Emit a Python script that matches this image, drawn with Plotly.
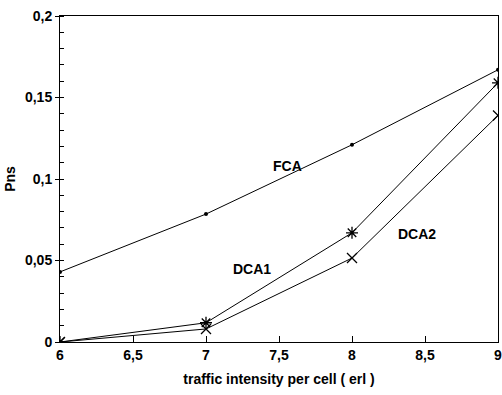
import plotly.graph_objects as go

x_vals = [6, 7, 8, 9]
fca = [0.043, 0.0785, 0.121, 0.167]
dca1 = [0.0, 0.0118, 0.067, 0.159]
dca2 = [0.0, 0.008, 0.0515, 0.139]

x_ticks = [6, 6.5, 7, 7.5, 8, 8.5, 9]
x_tick_labels = ["6", "6,5", "7", "7,5", "8", "8,5", "9"]
y_ticks = [0, 0.05, 0.1, 0.15, 0.2]
y_tick_labels = ["0", "0,05", "0,1", "0,15", "0,2"]

labels = ["FCA", "DCA1", "DCA2"]
label_x = [7.555, 7.315, 8.445]
label_y = [0.108, 0.0448, 0.066]

fnt = dict(family="Liberation Sans, Arial, sans-serif", size=14, color="black")

fig = go.Figure()
fig.add_trace(go.Scatter(x=x_vals, y=fca, mode="lines+markers",
                         line=dict(color="black", width=1),
                         marker=dict(symbol="circle", size=4, color="black")))
fig.add_trace(go.Scatter(x=x_vals, y=dca1, mode="lines+markers",
                         line=dict(color="black", width=1),
                         marker=dict(symbol="asterisk-open", size=10, color="black",
                                     line=dict(width=1.3, color="black"))))
fig.add_trace(go.Scatter(x=x_vals, y=dca2, mode="lines+markers",
                         line=dict(color="black", width=1),
                         marker=dict(symbol="x-thin-open", size=10, color="black",
                                     line=dict(width=1.3, color="black"))))

for t, xx, yy in zip(labels, label_x, label_y):
    fig.add_annotation(x=xx, y=yy, text="<b>" + t + "</b>", showarrow=False,
                       font=fnt, xref="x", yref="y")

fig.update_layout(
    width=502, height=395,
    margin=dict(l=60, r=4, t=16, b=53, autoexpand=False),
    paper_bgcolor="white", plot_bgcolor="white",
    showlegend=False,
    font=fnt,
)
fig.update_xaxes(
    range=[6, 9], tickvals=x_ticks, ticktext=["<b>" + s + "</b>" for s in x_tick_labels],
    ticks="inside", ticklen=6, tickcolor="black", tickwidth=1,
    showline=True, linecolor="black", linewidth=1, mirror=True,
    showgrid=False, zeroline=False, ticklabeloverflow="allow",
    title=dict(text="<b>traffic intensity per cell ( erl )</b>", font=fnt, standoff=12),
    tickfont=fnt,
)
fig.update_yaxes(
    range=[0, 0.2], tickvals=y_ticks, ticktext=["<b>" + s + "</b>" for s in y_tick_labels],
    ticks="outside", ticklen=4, tickcolor="black", tickwidth=1,
    minor=dict(dtick=0.01, ticks="inside", ticklen=4, tickcolor="black", showgrid=False),
    showline=True, linecolor="black", linewidth=1, mirror=True,
    showgrid=False, zeroline=False, ticklabeloverflow="allow",
    title=dict(text="<b>Pns</b>", font=fnt, standoff=6),
    tickfont=fnt,
)

fig.write_html("out.html")
